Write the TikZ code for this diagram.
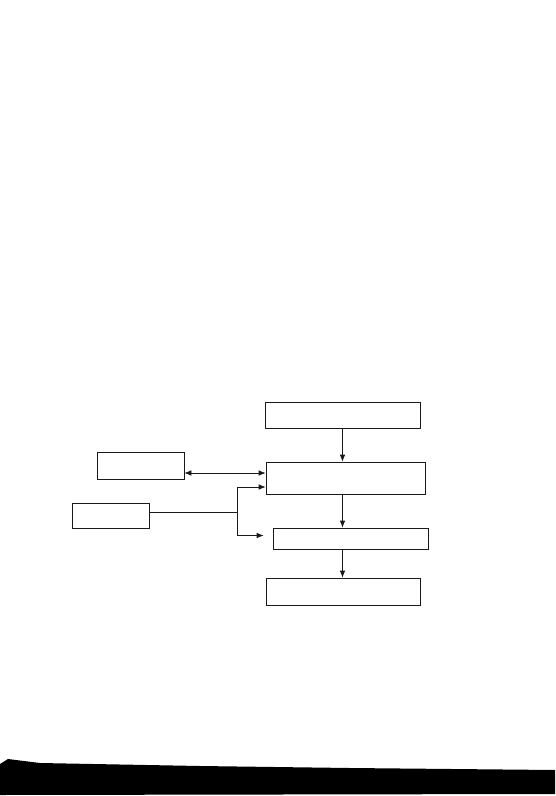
\documentclass[tikz,border=0pt]{standalone}
\usepackage{xcolor}
\usepackage{tikz}
\usetikzlibrary{arrows.meta}
\definecolor{ink}{HTML}{1A1A1A}

\begin{document}
\begin{tikzpicture}[x=1pt, y=-1pt,
    blockbox/.style={draw=ink, line width=0.7pt, inner sep=0pt},
    link/.style={draw=ink, line width=0.7pt, -{Latex[length=7pt,width=5.5pt]}}]
      \useasboundingbox (0,0) rectangle (555,796);
      % boxes
      \node[blockbox, minimum width=155pt, minimum height=26pt] (top) at (342.5,415) {};
      \node[blockbox, minimum width=159pt, minimum height=32pt] (main) at (345.5,478) {};
      \node[blockbox, minimum width=87pt, minimum height=27pt] (left) at (140.5,465.5) {};
      \node[blockbox, minimum width=77pt, minimum height=25pt] (feed) at (110.5,515.5) {};
      \node[blockbox, minimum width=155pt, minimum height=21pt] (mid) at (350.5,538.5) {};
      \node[blockbox, minimum width=154pt, minimum height=27pt] (bottom) at (343,591.5) {};
      % vertical chain
      \draw[link] (top.south) -- (top.south |- main.north);
      \draw[link] (top.south |- main.south) -- (top.south |- mid.north);
      \draw[link] (top.south |- mid.south) -- (top.south |- bottom.north);
      % two-way link
      \coordinate (mainin) at ([yshift=5pt]main.west);
      \draw[link, {Latex[length=7pt,width=5.5pt]}-{Latex[length=7pt,width=5.5pt]}]
        (left.east |- mainin) -- (mainin);
      % fork from the lower left box
      \coordinate (fork) at ([xshift=88pt, yshift=3pt]feed.east);
      \draw[draw=ink, line width=0.7pt] ([yshift=3pt]feed.east) -- (fork);
      \draw[link] (fork) |- ([yshift=-9pt]main.west);
      \draw[link] (fork) |- ([xshift=-9pt, yshift=3pt]mid.west);
      % scan edge
      \fill[black] (0,764) -- (8,759) -- (40,763) -- (200,766) -- (350,768)
        -- (555,770) -- (555,794) -- (0,795) -- cycle;
    \end{tikzpicture}
\end{document}
